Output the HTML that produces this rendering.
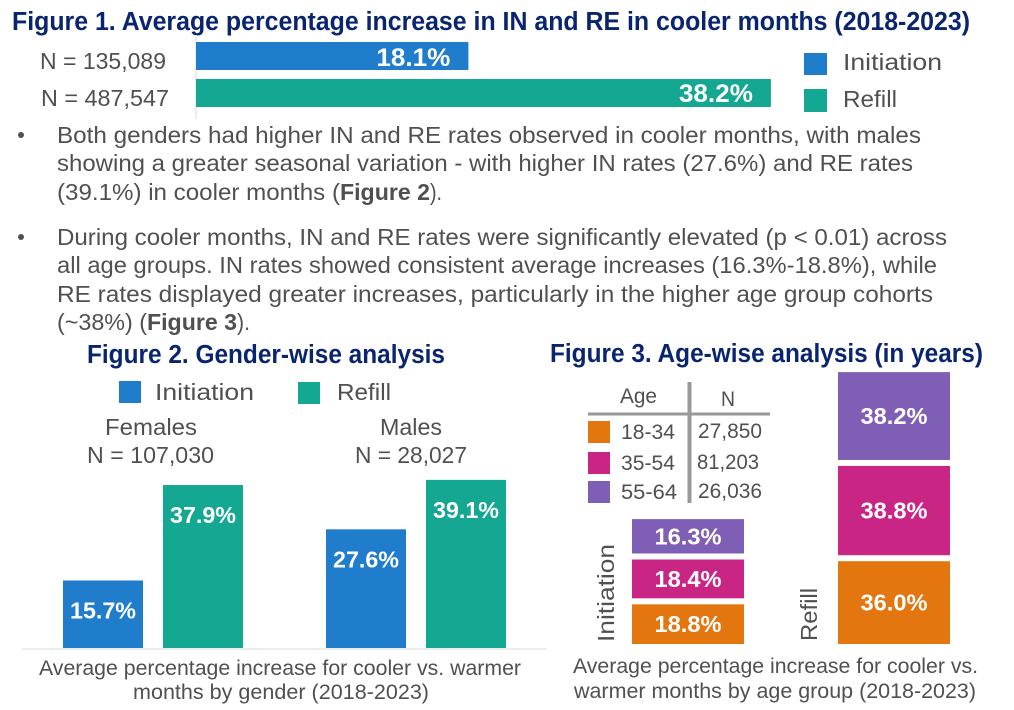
<!DOCTYPE html>
<html lang="en">
<head>
<meta charset="utf-8">
<title>Average percentage increase in IN and RE in cooler months</title>
<style>
html,body{margin:0;padding:0;background:#fff;}
svg{display:block;}
text{font-family:"Liberation Sans",sans-serif;}
.t{fill:#0a2570;font-weight:700;font-size:25.5px;}
.b{fill:#505050;font-size:23px;}
.s{fill:#505050;font-size:23.5px;}
.c{fill:#505050;font-size:21px;}
.k{fill:#505050;font-size:23px;font-weight:700;}
</style>
</head>
<body>
<svg id="chart" width="1014" height="710" viewBox="0 0 1014 710" xmlns="http://www.w3.org/2000/svg">
  <rect width="1014" height="710" fill="#ffffff"/>

  <text class="t" x="12" y="30" textLength="958" lengthAdjust="spacingAndGlyphs">Figure 1. Average percentage increase in IN and RE in cooler months (2018-2023)</text>
  <line x1="196" x2="196" y1="35" y2="119" stroke="#ececec" stroke-width="2"/>
  <text class="s" x="40" y="69" textLength="126" lengthAdjust="spacingAndGlyphs">N = 135,089</text>
  <text class="s" x="41" y="106" textLength="128" lengthAdjust="spacingAndGlyphs">N = 487,547</text>
  <g id="fig1"></g>
  <rect x="804" y="53" width="23" height="22" fill="#1f7dcc"/>
  <text class="s" x="843" y="70" textLength="99" lengthAdjust="spacingAndGlyphs">Initiation</text>
  <rect x="804" y="89" width="23" height="23" fill="#14a892"/>
  <text class="s" x="843" y="107" textLength="54" lengthAdjust="spacingAndGlyphs">Refill</text>

  <circle cx="21" cy="135" r="3" fill="#505050"/>
  <text class="b" x="57" y="143" textLength="864" lengthAdjust="spacingAndGlyphs">Both genders had higher IN and RE rates observed in cooler months, with males</text>
  <text class="b" x="57" y="171" textLength="856" lengthAdjust="spacingAndGlyphs">showing a greater seasonal variation - with higher IN rates (27.6%) and RE rates</text>
  <text class="b" x="57" y="200" textLength="283" lengthAdjust="spacingAndGlyphs">(39.1%) in cooler months (</text>
  <text class="k" x="340" y="200" textLength="90" lengthAdjust="spacingAndGlyphs">Figure 2</text>
  <text class="b" x="430" y="200" textLength="12" lengthAdjust="spacingAndGlyphs">).</text>

  <circle cx="21" cy="237" r="3" fill="#505050"/>
  <text class="b" x="57" y="245" textLength="890" lengthAdjust="spacingAndGlyphs">During cooler months, IN and RE rates were significantly elevated (p &lt; 0.01) across</text>
  <text class="b" x="57" y="273" textLength="880" lengthAdjust="spacingAndGlyphs">all age groups. IN rates showed consistent average increases (16.3%-18.8%), while</text>
  <text class="b" x="57" y="302" textLength="876" lengthAdjust="spacingAndGlyphs">RE rates displayed greater increases, particularly in the higher age group cohorts</text>
  <text class="b" x="57" y="330" textLength="90" lengthAdjust="spacingAndGlyphs">(~38%) (</text>
  <text class="k" x="147" y="330" textLength="90" lengthAdjust="spacingAndGlyphs">Figure 3</text>
  <text class="b" x="237" y="330" textLength="13" lengthAdjust="spacingAndGlyphs">).</text>

  <text class="t" x="87" y="363" textLength="358" lengthAdjust="spacingAndGlyphs">Figure 2. Gender-wise analysis</text>
  <rect x="119" y="381" width="22" height="22" fill="#1f7dcc"/>
  <text class="s" x="155" y="400" textLength="99" lengthAdjust="spacingAndGlyphs">Initiation</text>
  <rect x="298" y="382" width="22" height="22" fill="#14a892"/>
  <text class="s" x="337" y="400" textLength="54" lengthAdjust="spacingAndGlyphs">Refill</text>
  <text class="s" x="105" y="435" textLength="92" lengthAdjust="spacingAndGlyphs">Females</text>
  <text class="s" x="87" y="463" textLength="127" lengthAdjust="spacingAndGlyphs">N = 107,030</text>
  <text class="s" x="380" y="435" textLength="62" lengthAdjust="spacingAndGlyphs">Males</text>
  <text class="s" x="355" y="463" textLength="112" lengthAdjust="spacingAndGlyphs">N = 28,027</text>
  <g id="fig2"></g>
  <line x1="22" x2="547" y1="649" y2="649" stroke="#ececec" stroke-width="2"/>
  <text class="c" x="39" y="675" textLength="482" lengthAdjust="spacingAndGlyphs">Average percentage increase for cooler vs. warmer</text>
  <text class="c" x="133" y="699" textLength="296" lengthAdjust="spacingAndGlyphs">months by gender (2018-2023)</text>

  <text class="t" x="550" y="362" textLength="433" lengthAdjust="spacingAndGlyphs">Figure 3. Age-wise analysis (in years)</text>
  <line x1="588" x2="770" y1="414" y2="414" stroke="#999999" stroke-width="3"/>
  <line x1="689.5" x2="689.5" y1="382" y2="503" stroke="#999999" stroke-width="4"/>
  <text class="c" x="620" y="403" textLength="37" lengthAdjust="spacingAndGlyphs">Age</text>
  <text class="c" x="721" y="406" textLength="14" lengthAdjust="spacingAndGlyphs">N</text>
  <rect x="588" y="421" width="22" height="22" fill="#e4760f"/>
  <rect x="588" y="452" width="22" height="22" fill="#c82585"/>
  <rect x="588" y="481" width="22" height="22" fill="#7f5fb5"/>
  <text class="c" x="621" y="439" textLength="54" lengthAdjust="spacingAndGlyphs">18-34</text>
  <text class="c" x="698" y="438" textLength="64" lengthAdjust="spacingAndGlyphs">27,850</text>
  <text class="c" x="621" y="470" textLength="54" lengthAdjust="spacingAndGlyphs">35-54</text>
  <text class="c" x="697" y="469" textLength="62" lengthAdjust="spacingAndGlyphs">81,203</text>
  <text class="c" x="621" y="499" textLength="56" lengthAdjust="spacingAndGlyphs">55-64</text>
  <text class="c" x="698" y="498" textLength="64" lengthAdjust="spacingAndGlyphs">26,036</text>
  <g id="fig3"></g>
  <text class="s" transform="translate(614,642) rotate(-90)" x="0" y="0" textLength="98" lengthAdjust="spacingAndGlyphs">Initiation</text>
  <text class="s" transform="translate(817,641) rotate(-90)" x="0" y="0" textLength="53" lengthAdjust="spacingAndGlyphs">Refill</text>
  <text class="c" x="573" y="673" textLength="405" lengthAdjust="spacingAndGlyphs">Average percentage increase for cooler vs.</text>
  <text class="c" x="574" y="698" textLength="402" lengthAdjust="spacingAndGlyphs">warmer months by age group (2018-2023)</text>
</svg>
<script>
// Figure 1 data
const fig1Series = ['Initiation', 'Refill'];
const fig1Values = [18.1, 38.2];

// Figure 2 data
const fig2Groups = ['Females', 'Males'];
const fig2Initiation = [15.7, 27.6];
const fig2Refill = [37.9, 39.1];

// Figure 3 data (stack order, bottom to top)
const fig3Ages = ['18-34', '35-54', '55-64'];
const fig3Initiation = [18.8, 18.4, 16.3];
const fig3Refill = [36.0, 38.8, 38.2];

const NS = 'http://www.w3.org/2000/svg';
const BLUE = '#1f7dcc', TEAL = '#14a892';
const AGE_COLORS = ['#e4760f', '#c82585', '#7f5fb5'];

function fmt(v) { return v.toFixed(1) + '%'; }
function makeRect(parent, x, y, w, h, fill) {
  const r = document.createElementNS(NS, 'rect');
  r.setAttribute('x', x);
  r.setAttribute('y', y);
  r.setAttribute('width', w);
  r.setAttribute('height', h);
  r.setAttribute('fill', fill);
  parent.appendChild(r);
  return r;
}
function makeLabel(parent, x, y, str, anchor, len, size) {
  const t = document.createElementNS(NS, 'text');
  t.setAttribute('x', x);
  t.setAttribute('y', y);
  t.setAttribute('fill', '#ffffff');
  t.setAttribute('font-weight', '700');
  t.setAttribute('font-size', size);
  t.setAttribute('text-anchor', anchor);
  t.setAttribute('textLength', len);
  t.setAttribute('lengthAdjust', 'spacingAndGlyphs');
  t.textContent = str;
  parent.appendChild(t);
  return t;
}

// Figure 1: horizontal bars
const fig1 = document.getElementById('fig1');
const x1Scale = v => v * 15.05;
fig1Values.forEach((v, i) => {
  const y = 42 + i * 37;
  const w = x1Scale(v);
  const bar = makeRect(fig1, 196, y, w, 28, i === 0 ? BLUE : TEAL);
  
  
  bar.setAttribute('aria-label', fig1Series[i]);
  const label = makeLabel(fig1, 196 + w - 18, y + 24 - i, fmt(v), 'end', 74, 25);
  
  
});

// Figure 2: grouped columns
const fig2 = document.getElementById('fig2');
const baseY2 = 648;
const y2Scale = v => v * 4.3;
const groupX = [63, 326];
function drawFig2(values, offset, color, series) {
  values.forEach((v, i) => {
    const h = y2Scale(v);
    const x = groupX[i] + offset;
    const bar = makeRect(fig2, x, baseY2 - h, 80, h, color);
    
    
    bar.setAttribute('aria-label', fig2Groups[i] + ' ' + series);
    const label = makeLabel(fig2, x + 40, baseY2 - h + 38, fmt(v), 'middle', 66, 23);
    
    
  });
}
drawFig2(fig2Initiation, 0, BLUE, 'Initiation');
drawFig2(fig2Refill, 100, TEAL, 'Refill');

// Figure 3: stacked blocks
const fig3 = document.getElementById('fig3');
function drawStack(values, x, w, scale, series) {
  let bottom = 644;
  values.forEach((v, i) => {
    const h = v * scale;
    const seg = makeRect(fig3, x, bottom - h, w, h, AGE_COLORS[i]);
    
    
    seg.setAttribute('aria-label', series + ' ' + fig3Ages[i]);
    const label = makeLabel(fig3, x + w / 2, bottom - h / 2 + 8, fmt(v), 'middle', 67, 23);
    
    
    bottom -= h + 6;
  });
}
drawStack(fig3Initiation, 632, 112, 2.11, 'Initiation');
drawStack(fig3Refill, 838, 112, 2.3, 'Refill');
</script>
</body>
</html>
